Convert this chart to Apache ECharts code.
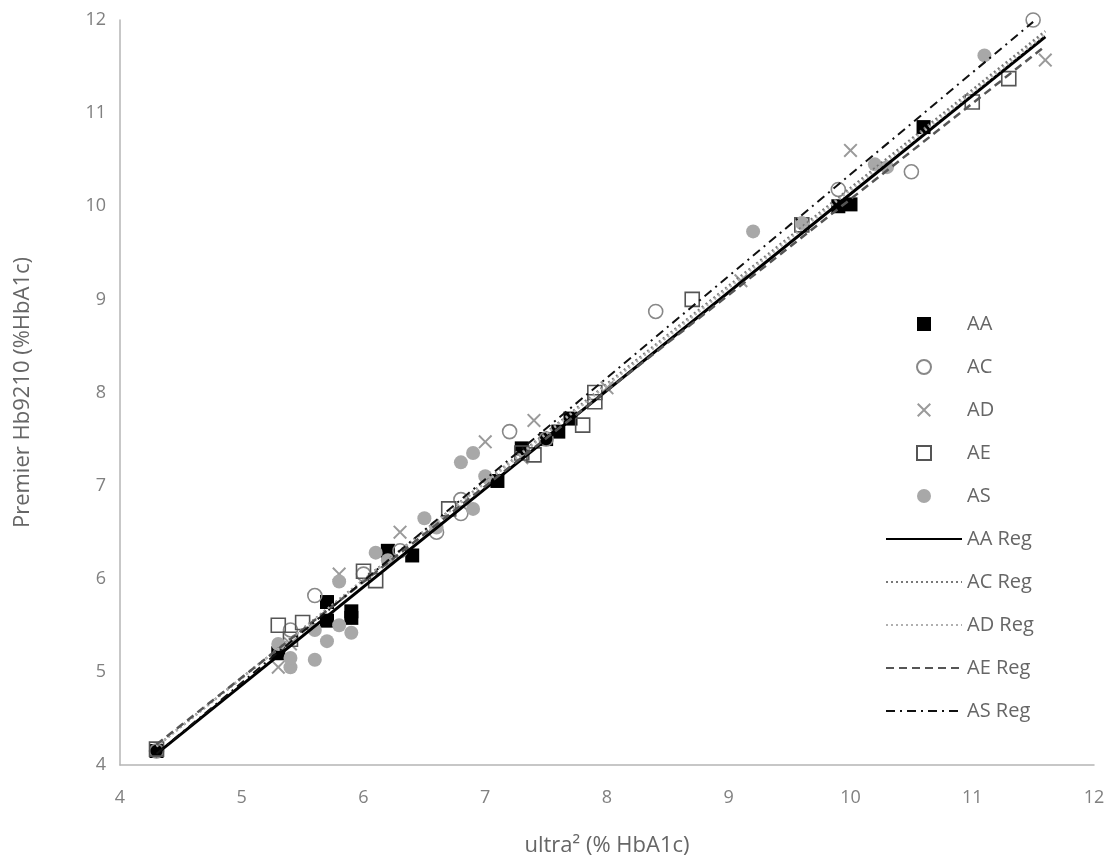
<!DOCTYPE html>
<html>
<head>
<meta charset="utf-8">
<script src="https://cdn.jsdelivr.net/npm/echarts@6/dist/echarts.min.js"></script>
<style>
  html, body { margin: 0; padding: 0; background: #fff; }
  #main { width: 1116px; height: 865px; }
</style>
</head>
<body>
<div id="main"></div>
<script>
// points: [ultra2, Premier Hb9210]
const aaPoints = [[4.3, 4.15], [5.3, 5.2], [5.7, 5.75], [5.7, 5.55], [5.9, 5.65], [5.9, 5.58],
  [6.2, 6.3], [6.4, 6.25], [7.1, 7.05], [7.3, 7.4], [7.5, 7.5], [7.6, 7.58], [7.7, 7.72],
  [9.9, 10.0], [10.0, 10.02], [10.6, 10.85]]
const acPoints = [[4.3, 4.15], [5.6, 5.82], [5.4, 5.45], [6.0, 6.05], [6.3, 6.3], [6.6, 6.5],
  [6.8, 6.85], [6.8, 6.7], [7.2, 7.58], [7.5, 7.5], [8.4, 8.87], [9.9, 10.18], [10.5, 10.37], [11.5, 12.0]]
const adPoints = [[5.3, 5.05], [5.4, 5.3], [5.8, 6.05], [6.3, 6.5], [7.0, 7.47], [7.3, 7.3],
  [7.4, 7.7], [8.0, 8.05], [9.1, 9.2], [10.0, 10.6], [11.6, 11.57]]
const aePoints = [[4.3, 4.17], [5.3, 5.5], [5.5, 5.53], [5.4, 5.35], [6.0, 6.08], [6.1, 5.98],
  [6.7, 6.75], [7.3, 7.35], [7.4, 7.33], [7.8, 7.65], [7.9, 7.9], [7.9, 8.0], [8.7, 9.0],
  [9.6, 9.8], [11.0, 11.12], [11.3, 11.37]]
const asPoints = [[5.3, 5.3], [5.4, 5.05], [5.4, 5.15], [5.6, 5.13], [5.7, 5.33], [5.8, 5.5],
  [5.8, 5.97], [5.9, 5.42], [5.6, 5.45], [6.1, 6.28], [6.2, 6.2], [6.5, 6.65], [6.6, 6.55],
  [6.8, 7.25], [6.9, 7.35], [6.9, 6.75], [7.0, 7.1], [9.2, 9.73], [9.6, 9.82], [10.2, 10.45],
  [10.3, 10.42], [11.1, 11.62]]

// trendline end points
const aaReg = [[4.3, 4.12], [11.6, 11.82]]
const acReg = [[4.3, 4.2], [11.6, 11.88]]
const adReg = [[4.3, 4.2], [11.6, 11.85]]
const aeReg = [[4.3, 4.22], [11.6, 11.72]]
const asReg = [[4.3, 4.12], [11.5, 11.98]]

const xTicks = [4, 5, 6, 7, 8, 9, 10, 11, 12]
const yTicks = [4, 5, 6, 7, 8, 9, 10, 11, 12]
const markerNames = ['AA', 'AC', 'AD', 'AE', 'AS']
const regNames = ['AA Reg', 'AC Reg', 'AD Reg', 'AE Reg', 'AS Reg']

const squarePath = 'path://M0,0H10V10H0Z'
const crossPath = 'path://M0,1L1,0L5,4L9,0L10,1L6,5L10,9L9,10L5,6L1,10L0,9L4,5Z'
const font = '"Liberation Sans Narrow", "Open Sans", sans-serif'

function regLine(name, data, color, width, type) {
  return {
    name: name, type: 'line', data: data, symbol: 'none', z: 5,
    lineStyle: { color: color, width: width, type: type },
    itemStyle: { color: color }
  }
}

// legend: square icons as paths so they keep their aspect, no dot on the line icons
const legendData = markerNames.map(function (n) {
  return (n === 'AA' || n === 'AE') ? { name: n, icon: squarePath } : { name: n }
}).concat(regNames.map(function (n) {
  return { name: n, itemStyle: { color: 'rgba(0,0,0,0)', opacity: 0, borderWidth: 0 } }
}))

const chart = echarts.init(document.getElementById('main'))
chart.setOption({
  animation: false,
  backgroundColor: '#fff',
  grid: { left: 120, right: 22, top: 20, bottom: 100 },
  xAxis: {
    type: 'value', min: xTicks[0], max: xTicks[xTicks.length - 1], interval: 1,
    name: 'ultra² (% HbA1c)', nameLocation: 'middle', nameGap: 70,
    nameTextStyle: { fontSize: 22, color: '#666', fontFamily: font },
    axisLine: { lineStyle: { color: '#b5b5b5', width: 1.5 } },
    axisTick: { show: false },
    axisLabel: { fontSize: 18, color: '#808080', margin: 24, fontFamily: font },
    splitLine: { show: false }
  },
  yAxis: {
    type: 'value', min: yTicks[0], max: yTicks[yTicks.length - 1], interval: 1,
    name: 'Premier Hb9210 (%HbA1c)', nameLocation: 'middle', nameGap: 86,
    nameTextStyle: { fontSize: 22, color: '#666', fontFamily: font },
    axisLine: { show: true, lineStyle: { color: '#b5b5b5', width: 1.5 } },
    axisTick: { show: false },
    axisLabel: { fontSize: 18, color: '#808080', margin: 14, fontFamily: font },
    splitLine: { show: false }
  },
  legend: {
    orient: 'vertical', left: 880, top: 309,
    itemWidth: 76, itemHeight: 14, itemGap: 23,
    data: legendData,
    textStyle: { fontSize: 20, color: '#666', fontFamily: font }
  },
  series: [
    { name: 'AA', type: 'scatter', data: aaPoints, symbol: 'rect', symbolSize: 14,
      itemStyle: { color: '#000', opacity: 1 } },
    { name: 'AC', type: 'scatter', data: acPoints, symbol: 'circle', symbolSize: 14,
      itemStyle: { color: 'rgba(255,255,255,0)', borderColor: '#888', borderWidth: 1.6, opacity: 1 } },
    { name: 'AD', type: 'scatter', data: adPoints, symbol: crossPath, symbolSize: 14,
      itemStyle: { color: '#9a9a9a', opacity: 1 } },
    { name: 'AE', type: 'scatter', data: aePoints, symbol: 'rect', symbolSize: 14,
      itemStyle: { color: 'rgba(255,255,255,0)', borderColor: '#555', borderWidth: 1.6, opacity: 1 } },
    { name: 'AS', type: 'scatter', data: asPoints, symbol: 'circle', symbolSize: 14,
      itemStyle: { color: '#a8a8a8', opacity: 1 } },
    regLine('AA Reg', aaReg, '#000', 3, 'solid'),
    regLine('AC Reg', acReg, '#777', 2.5, [2, 3]),
    regLine('AD Reg', adReg, '#b0b0b0', 2.5, [2, 3]),
    regLine('AE Reg', aeReg, '#555', 2.5, [8, 5]),
    regLine('AS Reg', asReg, '#111', 2, [9, 5, 2, 5])
  ]
})
</script>
</body>
</html>
